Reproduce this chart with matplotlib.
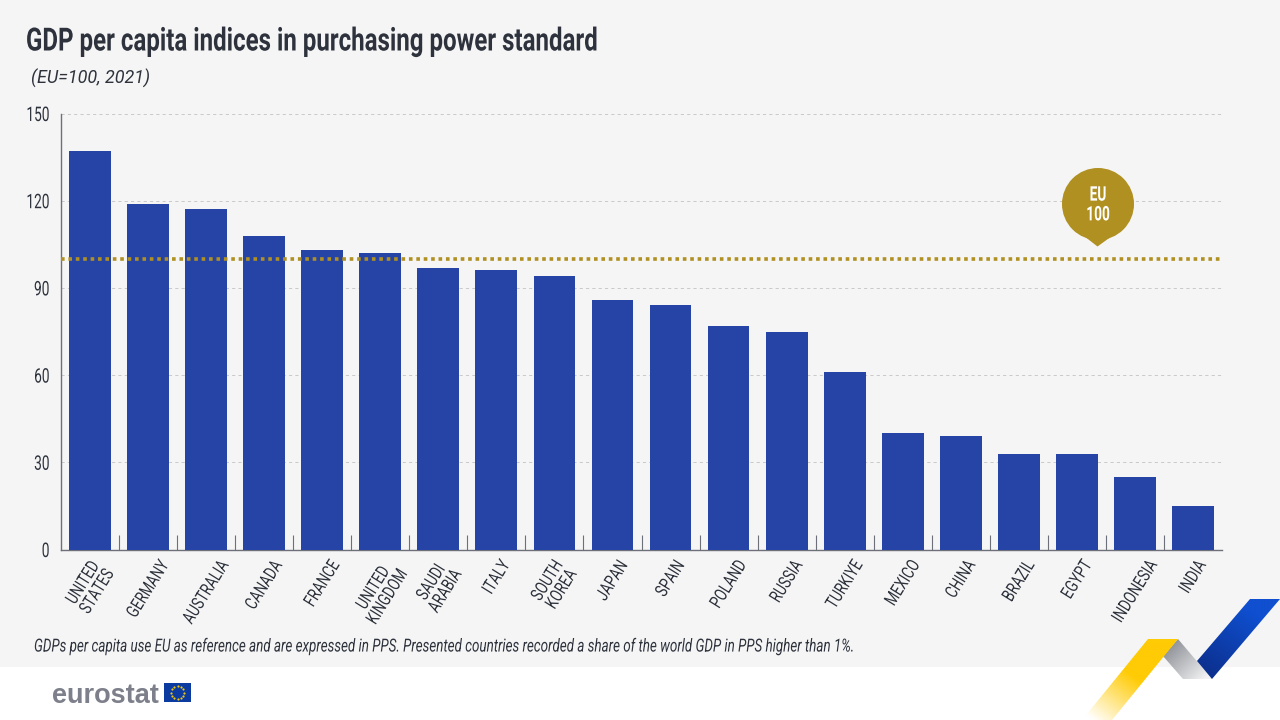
import numpy as np
import matplotlib
matplotlib.use("Agg")
import matplotlib.pyplot as plt
from matplotlib.patches import Polygon, Circle, Rectangle
from matplotlib.patheffects import AbstractPathEffect
from matplotlib.transforms import Affine2D, ScaledTranslation
from matplotlib.colors import LinearSegmentedColormap

countries = ["UNITED\nSTATES", "GERMANY", "AUSTRALIA", "CANADA", "FRANCE", "UNITED\nKINGDOM",
             "SAUDI\nARABIA", "ITALY", "SOUTH\nKOREA", "JAPAN", "SPAIN", "POLAND", "RUSSIA",
             "TURKIYE", "MEXICO", "CHINA", "BRAZIL", "EGYPT", "INDONESIA", "INDIA"]
gdp_index = [137, 119, 117, 108, 103, 102, 97, 96, 94, 86, 84, 77, 75, 61, 40, 39, 33, 33, 25, 15]
y_ticks = [0, 30, 60, 90, 120, 150]
eu_level = 100

W, H = 1280, 720
BG = "#f5f5f5"; BAR = "#2643a6"; GOLD = "#b09020"; INK = "#2d323c"; AX = "#6d7078"
plt.rcParams["font.family"] = ["Roboto", "DejaVu Sans"]


class Condense(AbstractPathEffect):
    """Narrow each drawn line of a text horizontally (no condensed face is installed)."""
    def __init__(self, sx, anchor="left"):
        super().__init__()
        self.sx, self.anchor = sx, anchor

    def draw_path(self, renderer, gc, tpath, affine, rgbFace=None):
        e = tpath.get_extents()
        cx = {"left": 0.0, "center": (e.x0 + e.x1) / 2, "right": e.x1}[self.anchor]
        aff = Affine2D().translate(-cx, 0).scale(self.sx, 1).translate(cx, 0) + affine
        renderer.draw_path(gc, tpath, aff, rgbFace)


fig = plt.figure(figsize=(W/100, H/100), dpi=100, facecolor="white")

bg = fig.add_axes([0, 0, 1, 1], zorder=0)
bg.set_xlim(0, W); bg.set_ylim(H, 0); bg.axis("off")
bg.add_patch(Rectangle((0, 0), W, 667, fc=BG, ec="none"))


def grad(ax, poly, c0, c1, p0, p1):
    xs = [p[0] for p in poly]; ys = [p[1] for p in poly]
    x0, x1, y0, y1 = min(xs), max(xs), min(ys), max(ys)
    gx, gy = np.meshgrid(np.linspace(x0, x1, 160), np.linspace(y0, y1, 160))
    d = np.array(p1) - np.array(p0)
    t = np.clip(((gx - p0[0]) * d[0] + (gy - p0[1]) * d[1]) / (d @ d), 0, 1)
    cm = LinearSegmentedColormap.from_list("g", [c0, c1])
    im = ax.imshow(t, extent=[x0, x1, y1, y0], cmap=cm, vmin=0, vmax=1, aspect="auto", zorder=2)
    pg = Polygon(poly, closed=True, transform=ax.transData, fc="none", ec="none")
    ax.add_patch(pg); im.set_clip_path(pg)


grad(bg, [(1163, 656), (1178, 639), (1212, 679), (1183, 679)], "#8f9298", "#f4f4f5", (1170, 645), (1205, 680))
grad(bg, [(1148, 639), (1178, 639), (1112, 720), (1082, 720)], "#ffcb05", "#ffffff", (1128, 672), (1092, 720))
grad(bg, [(1250, 599), (1280, 599), (1212, 679), (1197, 661)], "#0f4fd0", "#0c2f8c", (1250, 610), (1205, 675))
bg.set_xlim(0, W); bg.set_ylim(H, 0)

bg.text(52, 693, "eurostat", family=["Liberation Sans", "DejaVu Sans"], weight="bold", fontsize=19.5,
        color="#7d808a", ha="left", va="center_baseline")
bg.add_patch(Rectangle((164, 683), 27, 19, fc="#0b3aa0", ec="none"))
ang = np.arange(12) * np.pi / 6
bg.scatter(177.5 + 6.3*np.cos(ang), 692.5 + 6.3*np.sin(ang), s=2.5, c="#f2c80f", marker="o", linewidths=0, zorder=3)

ax = fig.add_axes([61/W, 1 - 549.5/H, (1222-61)/W, (549.5-113.5)/H], zorder=1)
ax.patch.set_alpha(0)
x = np.arange(len(gdp_index))
ax.bar(x, gdp_index, width=0.72, color=BAR, zorder=3)
ax.set_xlim(-0.5, len(gdp_index) - 0.5)
ax.set_ylim(0, 150)
ax.set_yticks(y_ticks)
ax.set_yticklabels([str(v) for v in y_ticks], fontsize=14.5, color=INK,
                   path_effects=[Condense(0.68, "right")])
ax.tick_params(axis="y", length=0, pad=8)
ax.yaxis.grid(True, color="#c6c6c6", lw=0.65, ls=(0, (3.5, 3.5)), zorder=1)
ax.set_axisbelow(True)
ax.set_xticks(x)
LABEL_SX = 0.75
LABEL_ANGLE = 58
ax.set_xticklabels(countries, rotation=0, ha="center", va="center",
                   fontsize=13, color=INK, linespacing=0.9,
                   path_effects=[Condense(LABEL_SX, "center")])
ax.tick_params(axis="x", length=0, pad=0)
ax.set_xticks(x[:-1] + 0.5, minor=True)
ax.tick_params(axis="x", which="minor", length=11, width=0.8, color=AX, direction="in")
renderer = fig.canvas.get_renderer()
a = np.deg2rad(LABEL_ANGLE)
LABEL_TOP_PX = 8
for lab in ax.get_xticklabels():
    e = lab.get_window_extent(renderer)
    half = 0.5 * (e.width * LABEL_SX * np.sin(a) + e.height * np.cos(a))
    lab.set_rotation(LABEL_ANGLE)
    lab.set_transform(lab.get_transform() + ScaledTranslation(0, -(LABEL_TOP_PX + half) / 100, fig.dpi_scale_trans))
for s in ("top", "right"):
    ax.spines[s].set_visible(False)
for s in ("left", "bottom"):
    ax.spines[s].set_color(AX); ax.spines[s].set_linewidth(1.0)
ax.axhline(eu_level, color=GOLD, lw=2.6, ls=(0, (1, 1.05)), zorder=4)

over = fig.add_axes([0, 0, 1, 1], zorder=2)
over.set_xlim(0, W); over.set_ylim(H, 0); over.axis("off")
over.add_patch(Circle((1098, 204), 36, fc=GOLD, ec="none"))
over.add_patch(Polygon([(1084, 236), (1112, 236), (1097.5, 246.5)], fc=GOLD, ec="none"))
over.text(1098, 205, f"EU\n{eu_level}", color="white", fontsize=14.5, weight="bold", ha="center", va="center",
          linespacing=1.05, path_effects=[Condense(0.68, "center")])

fig.text(26/W, 1 - 41.5/H, "GDP per capita indices in purchasing power standard", fontsize=23, weight="bold",
         color=INK, ha="left", va="center", path_effects=[Condense(0.753, "left")])
fig.text(31/W, 1 - 78/H, "(EU=100, 2021)", fontsize=13, style="italic", color=INK, ha="left", va="center")
fig.text(34/W, 1 - 646.5/H, "GDPs per capita use EU as reference and are expressed in PPS. Presented countries recorded a share of the world GDP in PPS higher than 1%.",
         fontsize=13, style="italic", color=INK, ha="left", va="center", path_effects=[Condense(0.743, "left")])

fig.savefig("out.png", dpi=100, facecolor="white")
